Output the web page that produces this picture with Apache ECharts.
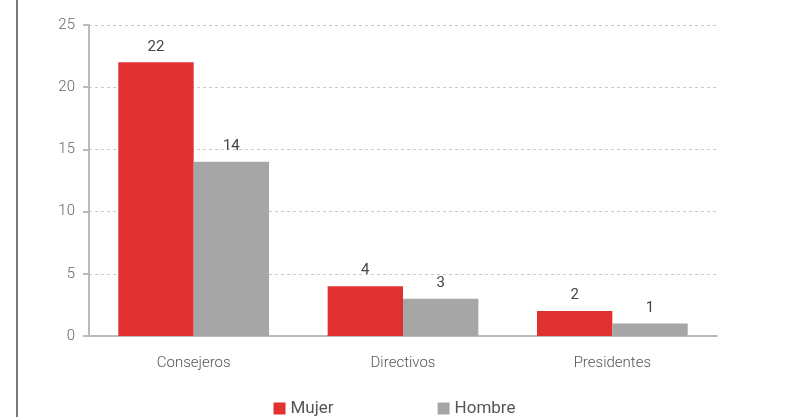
<!DOCTYPE html>
<html>
<head>
<meta charset="utf-8">
<script src="https://cdn.jsdelivr.net/npm/echarts@6/dist/echarts.min.js"></script>
<style>
  html,body{margin:0;padding:0;background:#fff;}
  #chart{width:789px;height:417px;}
</style>
</head>
<body>
<div id="chart"></div>
<script>
// data
const categories = ['Consejeros', 'Directivos', 'Presidentes'];
const mujer = [22, 4, 2];
const hombre = [14, 3, 1];
const seriesNames = ['Mujer', 'Hombre'];

const font = 'Roboto';
const chart = echarts.init(document.getElementById('chart'));

const labelStyle = {
  show: true,
  position: 'top',
  distance: 8,
  color: '#444',
  fontFamily: font,
  fontSize: 15
};

chart.setOption({
  animation: false,
  textStyle: { fontFamily: font },
  graphic: [{
    type: 'rect',
    shape: { x: 16, y: 0, width: 2, height: 417 },
    style: { fill: '#7a7a7a' }
  }],
  grid: { left: 89, right: 72, top: 25, bottom: 81 },
  legend: {
    top: 395,
    left: 'center',
    icon: 'rect',
    itemWidth: 12,
    itemHeight: 12,
    itemGap: 104,
    textStyle: { color: '#555', fontSize: 17, fontFamily: font },
    data: seriesNames
  },
  xAxis: {
    type: 'category',
    data: categories,
    axisLine: { lineStyle: { color: '#bbb', width: 2 } },
    axisTick: { show: false },
    axisLabel: { color: '#555', fontSize: 15, margin: 20, fontWeight: 300 }
  },
  yAxis: {
    type: 'value',
    min: 0,
    max: 25,
    interval: 5,
    axisLine: { show: true, lineStyle: { color: '#bbb', width: 2 } },
    axisTick: { show: true, length: 6, lineStyle: { color: '#bbb', width: 2 } },
    axisLabel: { color: '#666', fontSize: 15, margin: 14, fontWeight: 300 },
    splitLine: { lineStyle: { color: '#c8c8c8', type: [3, 3] } }
  },
  series: [
    {
      name: seriesNames[0],
      type: 'bar',
      data: mujer,
      barGap: '0%',
      barCategoryGap: '28%',
      itemStyle: { color: '#e03030' },
      label: labelStyle
    },
    {
      name: seriesNames[1],
      type: 'bar',
      data: hombre,
      itemStyle: { color: '#a6a6a6' },
      label: labelStyle
    }
  ]
});
</script>
</body>
</html>
